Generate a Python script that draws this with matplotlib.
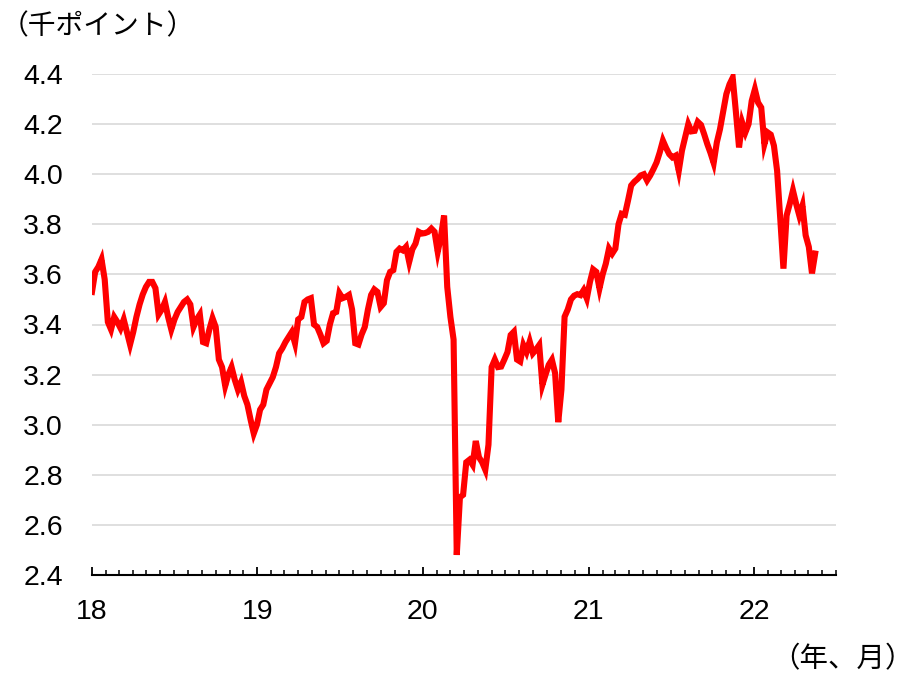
import matplotlib
matplotlib.use("Agg")
import matplotlib.pyplot as plt
import matplotlib.dates as mdates
import pandas as pd

# weekly index level (thousand points), one value per week
v2018 = [3.53, 3.61, 3.63, 3.66, 3.58, 3.41, 3.38, 3.43, 3.41, 3.385,
         3.42, 3.37, 3.32, 3.37, 3.43, 3.48, 3.52, 3.55, 3.57, 3.57,
         3.545, 3.44, 3.46, 3.49, 3.43, 3.38, 3.42, 3.45, 3.47, 3.49,
         3.50, 3.48, 3.39, 3.42, 3.44, 3.33, 3.325, 3.38, 3.425, 3.39,
         3.26, 3.23, 3.155, 3.20, 3.23, 3.18, 3.14, 3.17, 3.115, 3.08,
         3.02, 2.965, 3.00]
v2019 = [3.06, 3.08, 3.14, 3.165, 3.19, 3.23, 3.285, 3.305, 3.33, 3.35,
         3.37, 3.325, 3.42, 3.43, 3.49, 3.50, 3.505, 3.40, 3.39, 3.36,
         3.325, 3.335, 3.40, 3.445, 3.45, 3.525, 3.505, 3.51, 3.518, 3.46,
         3.325, 3.32, 3.36, 3.39, 3.46, 3.518, 3.54, 3.53, 3.47, 3.485,
         3.577, 3.61, 3.617, 3.69, 3.703, 3.696, 3.71, 3.65, 3.70, 3.723,
         3.77, 3.763, 3.765]
v2020 = [3.77, 3.783, 3.77, 3.69, 3.75, 3.835, 3.55, 3.43, 3.34, 2.48,
         2.71, 2.72, 2.85, 2.86, 2.84, 2.935, 2.87, 2.85, 2.82, 2.92,
         3.23, 3.26, 3.23, 3.232, 3.26, 3.29, 3.358, 3.371, 3.26, 3.252,
         3.318, 3.29, 3.332, 3.285, 3.30, 3.318, 3.159, 3.20, 3.239, 3.259,
         3.206, 3.01, 3.14, 3.431, 3.46, 3.50, 3.515, 3.521, 3.517, 3.537,
         3.504, 3.57]
v2021 = [3.62, 3.61, 3.544, 3.60, 3.643, 3.703, 3.683, 3.703, 3.80, 3.842,
         3.838, 3.895, 3.955, 3.97, 3.981, 3.995, 4.00, 3.975, 3.995, 4.02,
         4.047, 4.087, 4.134, 4.105, 4.08, 4.067, 4.074, 4.014, 4.094, 4.147,
         4.20, 4.171, 4.173, 4.209, 4.197, 4.16, 4.12, 4.085, 4.045, 4.127,
         4.18, 4.25, 4.32, 4.359, 4.385, 4.25, 4.107, 4.206, 4.167, 4.20,
         4.293, 4.339]
v2022 = [4.286, 4.266, 4.12, 4.167, 4.158, 4.114, 4.014, 3.822, 3.623, 3.835,
         3.882, 3.935, 3.882, 3.835, 3.875, 3.756, 3.71, 3.604, 3.683]

values = v2018 + v2019 + v2020 + v2021 + v2022
dates = pd.date_range("2018-01-01", periods=len(values), freq="7D")

years = [2018, 2019, 2020, 2021, 2022]
year_labels = ["18", "19", "20", "21", "22"]
yticks = [2.4, 2.6, 2.8, 3.0, 3.2, 3.4, 3.6, 3.8, 4.0, 4.2, 4.4]

jp = ["Noto Sans CJK JP", "DejaVu Sans"]
plt.rcParams["font.family"] = ["Liberation Sans", "DejaVu Sans"]

fig = plt.figure(figsize=(9.15, 6.79), dpi=100)
ax = fig.add_axes([92 / 915, 1 - 575 / 679, (836 - 92) / 915, (575 - 74) / 679])

ax.plot(dates, values, color="#ff0000", lw=4.4, solid_joinstyle="miter", zorder=3)

ax.set_ylim(2.4, 4.4)
ax.set_yticks(yticks)
ax.set_yticklabels([f"{t:.1f}" for t in yticks])
ax.grid(axis="y", color="#d9d9d9", lw=1.2)
ax.set_axisbelow(True)

ax.set_xlim(pd.Timestamp("2018-01-01"), pd.Timestamp("2022-07-01"))
ax.set_xticks([pd.Timestamp(f"{y}-01-01") for y in years])
ax.set_xticklabels(year_labels)
ax.xaxis.set_minor_locator(mdates.MonthLocator())

for s in ["left", "right", "top"]:
    ax.spines[s].set_visible(False)
ax.spines["bottom"].set_linewidth(1.5)

ax.tick_params(axis="y", length=0, pad=21, labelsize=20.5)
ax.tick_params(axis="x", which="major", direction="in", length=6, width=1.3,
               pad=17, labelsize=20.5)
ax.tick_params(axis="x", which="minor", direction="in", length=3.6, width=1.1)

fig.text(1 / 915, 1 - 26 / 679, "（千ポイント）", family=jp, fontsize=20,
         va="center", ha="left")
fig.text(914 / 915, 1 - 659 / 679, "（年、月）", family=jp, fontsize=20.5,
         va="center", ha="right")

fig.savefig("out.png", dpi=100)
